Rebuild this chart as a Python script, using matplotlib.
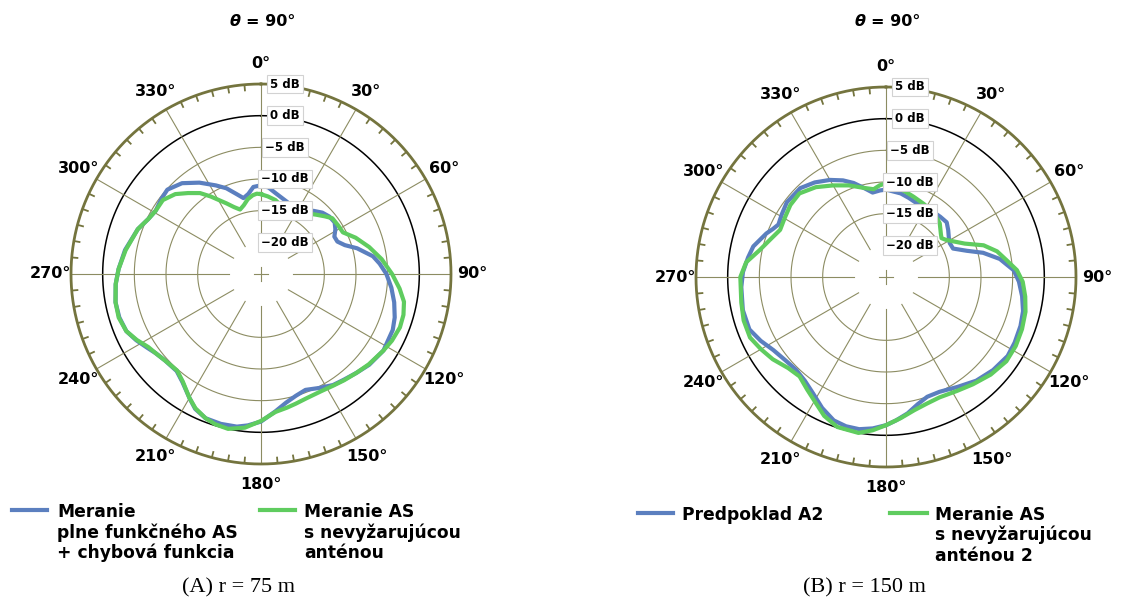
import matplotlib

matplotlib.use("Agg")

import matplotlib.pyplot as plt
import numpy as np
from matplotlib.lines import Line2D

W, H = 1132, 601

BLUE = "#5b7fbf"
GREEN = "#5fcc5f"
GRID = "#8c8c62"
RING = "#74743e"

# dB rings and their labels
RING_DB = [-15, -10, -5]
LABEL_DB = [5, 0, -5, -10, -15, -20]
SPOKES_DEG = list(range(0, 360, 30))
CROSS_DEG = [0, 90, 180, 270]
TICKS_DEG = [d for d in range(0, 360, 5) if d % 30]

# (A) r = 75 m
A_BLUE_DEG = [0, 5, 10, 20, 29, 35, 40, 45, 50, 55, 59, 63, 67, 71, 75, 78, 81, 85, 90,
              96, 102, 108, 113, 122, 130, 136, 142, 147, 153, 159, 164, 169, 174, 180,
              185, 189, 195, 201, 206, 210, 216, 221, 228, 233, 237, 242, 247, 253, 259,
              266, 272, 280, 290, 296, 301, 307, 312, 319, 326, 333, 338, 343, 347, 351, 355]
A_BLUE_DB = [-11.0, -11.3, -12.0, -12.9, -13.5, -12.7, -12.0, -11.3, -10.9, -10.8, -11.3,
             -12.0, -11.9, -11.0, -9.3, -8.3, -7.1, -6.2, -5.2, -4.3, -3.5, -2.8, -2.4,
             -2.2, -2.7, -3.3, -3.8, -4.1, -4.8, -5.4, -5.0, -4.3, -3.2, -1.7, -1.0, -0.6,
             -0.5, -0.6, -1.3, -2.4, -3.9, -4.7, -4.6, -4.2, -3.6, -2.7, -1.9, -1.6, -1.6,
             -2.0, -2.5, -3.2, -4.3, -5.2, -5.6, -5.3, -5.1, -6.0, -7.6, -9.3, -10.4,
             -11.8, -12.7, -12.2, -11.2]
A_GREEN_DEG = [0, 5, 11, 17, 22, 28, 33, 37, 43, 48, 52, 58, 63, 69, 76, 83, 90, 96, 101,
               106, 111, 117, 122, 130, 136, 142, 147, 153, 160, 165, 169, 174, 180, 186,
               192, 197, 201, 206, 210, 216, 221, 228, 233, 237, 242, 247, 253, 259, 266,
               272, 280, 290, 296, 301, 307, 313, 318, 323, 327, 334, 338, 342, 346, 350,
               354, 357]
A_GREEN_DB = [-12.4, -12.7, -13.1, -13.8, -14.3, -14.3, -13.7, -13.0, -12.2, -11.4, -10.7,
              -10.6, -10.5, -9.0, -7.4, -5.8, -4.3, -3.0, -2.0, -1.6, -1.5, -1.8, -2.2,
              -2.8, -3.3, -3.7, -4.0, -4.2, -4.1, -3.8, -3.5, -3.1, -1.8, -0.6, 0.0, -0.2,
              -0.6, -1.4, -2.4, -4.0, -4.8, -4.6, -4.2, -3.8, -2.8, -1.9, -1.5, -1.6, -2.0,
              -2.5, -3.3, -4.3, -5.2, -5.6, -5.6, -6.5, -7.8, -9.0, -10.4, -12.6, -13.6,
              -14.3, -13.8, -13.0, -12.5, -12.3]

# (B) r = 150 m
B_BLUE_DEG = [0, 10, 16, 23, 30, 36, 42, 48, 53, 58, 62, 67, 72, 76, 81, 87, 92, 98, 104,
              110, 117, 123, 131, 139, 147, 155, 161, 166, 171, 176, 180, 185, 190, 195,
              200, 206, 212, 218, 224, 230, 237, 243, 249, 257, 266, 272, 278, 283, 290,
              293, 296, 301, 307, 316, 323, 330, 336, 341, 346, 351, 356]
B_BLUE_DB = [-11.2, -11.6, -12.0, -12.4, -12.4, -12.3, -12.2, -12.1, -12.7, -13.3, -13.6,
             -13.5, -11.6, -9.2, -6.8, -4.8, -4.0, -3.3, -2.7, -2.4, -2.2, -2.1, -2.6,
             -3.3, -4.3, -5.0, -5.0, -4.3, -3.2, -2.3, -1.6, -1.0, -0.6, -0.6, -0.9,
             -2.0, -3.3, -4.2, -4.6, -4.4, -3.8, -2.8, -1.9, -1.8, -2.1, -2.4, -3.0, -3.5,
             -4.9, -5.6, -6.1, -5.8, -5.4, -5.5, -6.3, -7.3, -8.3, -9.3, -10.5, -11.5, -11.3]
B_GREEN_DEG = [0, 6, 13, 19, 27, 36, 45, 52, 55, 58, 62, 67, 72, 77, 82, 87, 92, 98, 104,
               111, 118, 125, 133, 141, 148, 156, 162, 168, 174, 180, 185, 190, 198, 204,
               209, 215, 221, 227, 234, 240, 246, 253, 260, 270, 276, 282, 288, 294, 300,
               307, 314, 322, 330, 338, 346, 352, 356]
B_GREEN_DB = [-10.2, -10.6, -11.2, -11.6, -12.0, -12.3, -13.0, -14.0, -14.3, -13.9, -13.0,
              -11.5, -8.8, -7.0, -5.8, -4.3, -3.4, -2.8, -2.3, -2.0, -1.8, -1.8, -2.4,
              -3.2, -3.8, -4.2, -4.0, -3.5, -2.6, -1.6, -0.7, 0.0, -0.1, -1.0, -2.2, -3.3,
              -4.2, -3.9, -2.9, -2.2, -1.5, -1.5, -1.8, -2.0, -2.8, -4.6, -5.8, -6.7, -6.5,
              -6.1, -6.0, -7.0, -8.3, -9.4, -10.5, -11.0, -10.5]

PANELS = [
    dict(cx=261, cy=274, blue=(A_BLUE_DEG, A_BLUE_DB), green=(A_GREEN_DEG, A_GREEN_DB),
         labels=["Meranie\nplne funkčného AS\n+ chybová funkcia",
                 "Meranie AS\ns nevyžarujúcou\nanténou"],
         leg_x=[(12, 47, 57), (260, 295, 304)], leg_y=(510, 517),
         caption="(A) r = 75 m", cap_x=238),
    dict(cx=886, cy=277, blue=(B_BLUE_DEG, B_BLUE_DB), green=(B_GREEN_DEG, B_GREEN_DB),
         labels=["Predpoklad A2",
                 "Meranie AS\ns nevyžarujúcou\nanténou 2"],
         leg_x=[(638, 673, 682), (890, 927, 935)], leg_y=(513, 520),
         caption="(B) r = 150 m", cap_x=864),
]

R_PX = 190
RMIN, RMAX = -25, 5
LINE_PX = 20.5


def fx(px):
    return px / W


def fy(py):
    return 1 - py / H


def draw_panel(fig, p):
    cx, cy = p["cx"], p["cy"]
    ax = fig.add_axes([fx(cx - R_PX), fy(cy + R_PX), 2 * R_PX / W, 2 * R_PX / H],
                      projection="polar")
    ax.set_theta_zero_location("N")
    ax.set_theta_direction(-1)
    ax.set_rlim(RMIN, RMAX)
    ax.grid(False)
    ax.set_xticks([])
    ax.set_yticks([])
    ax.spines["polar"].set_visible(False)
    ax.patch.set_alpha(0)

    full = np.linspace(0, 2 * np.pi, 721)
    for r in RING_DB:
        ax.plot(full, np.full_like(full, r), color=GRID, lw=0.8, zorder=1)
    ax.plot(full, np.zeros_like(full), color="black", lw=1.1, zorder=1)
    ax.plot(full, np.full_like(full, RMAX), color=RING, lw=2.0, zorder=3, clip_on=False)

    for d in SPOKES_DEG:
        t = np.deg2rad(d)
        ax.plot([t, t], [-20, RMAX], color=GRID, lw=0.8, zorder=1)
    for d in CROSS_DEG:
        t = np.deg2rad(d)
        ax.plot([t, t], [RMIN, RMIN + 1.1], color=GRID, lw=0.8, zorder=1)
    for d in TICKS_DEG:
        t = np.deg2rad(d)
        ax.plot([t, t], [RMAX - 0.9, RMAX], color=RING, lw=1.3, zorder=3)

    for d in SPOKES_DEG:
        ax.text(np.deg2rad(d), 8.3, f"{d}°", ha="center", va="center",
                fontsize=11.5, fontweight="bold", clip_on=False)

    for key, color in (("blue", BLUE), ("green", GREEN)):
        deg, db = p[key]
        t = np.deg2rad(np.append(deg, deg[0] + 360))
        ax.plot(t, np.append(db, db[0]), color=color, lw=3.0, zorder=4,
                solid_joinstyle="round")

    for v in LABEL_DB:
        txt = f"{v} dB".replace("-", "\u2212")
        ax.annotate(txt, xy=(0, v), xytext=(24, 0), textcoords="offset pixels",
                    ha="center", va="center", fontsize=8.5, fontweight="bold", zorder=6,
                    bbox=dict(boxstyle="square,pad=0.25", fc="white", ec="#d2d2d2", lw=0.8))

    # title
    fig.text(fx(cx - 20), fy(22), "θ", ha="right", va="center", fontsize=11.5,
             fontweight="bold", style="italic")
    fig.text(fx(cx - 15), fy(22), "= 90°", ha="left", va="center", fontsize=11.5,
             fontweight="bold")

    # legend, one text per line so the spacing stays fixed
    ly, tb = p["leg_y"]
    for (x0, x1, xt), color, label in zip(p["leg_x"], (BLUE, GREEN), p["labels"]):
        fig.add_artist(Line2D([fx(x0), fx(x1)], [fy(ly), fy(ly)], color=color, lw=3.0,
                              transform=fig.transFigure))
        for i, line in enumerate(label.split("\n")):
            fig.text(fx(xt), fy(tb + i * LINE_PX), line, ha="left", va="baseline",
                     fontsize=12.3, fontweight="bold")

    fig.text(fx(p["cap_x"]), fy(592), p["caption"], ha="center", va="baseline",
             fontsize=16, family="Liberation Serif")


def main():
    fig = plt.figure(figsize=(W / 100, H / 100), dpi=100)
    fig.patch.set_facecolor("white")
    for p in PANELS:
        draw_panel(fig, p)
    fig.savefig("out.png", dpi=100, facecolor="white")


if __name__ == "__main__":
    main()
